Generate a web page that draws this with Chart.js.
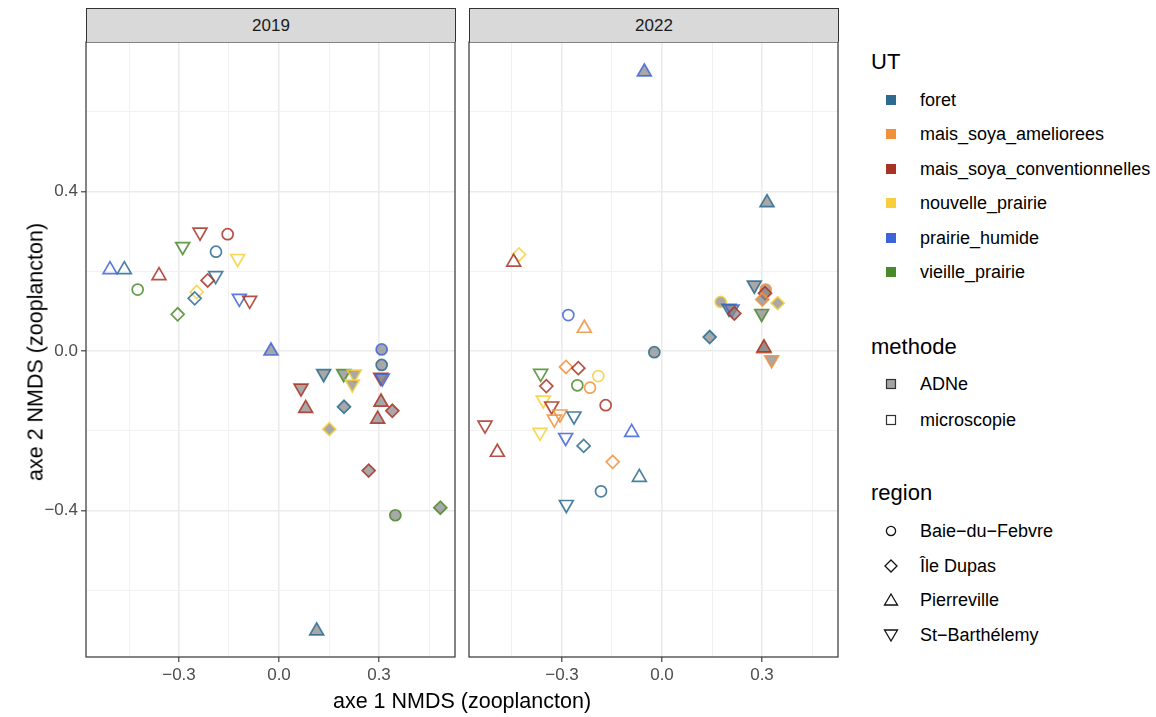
<!DOCTYPE html>
<html>
<head>
<meta charset="utf-8">
<script src="https://cdn.jsdelivr.net/npm/chart.js@4.4.1/dist/chart.umd.min.js"></script>
<style>
  html, body { margin:0; padding:0; background:#ffffff; }
  body { width:1156px; height:717px; position:relative; overflow:hidden; font-family:"Liberation Sans", Arial, Helvetica, sans-serif; }
  .pane { position:absolute; top:0; height:717px; }
  .strip { position:absolute; top:8px; height:33px; background:#D9D9D9; border:1px solid #333333; border-bottom:none; box-sizing:content-box;
           font-size:17px; color:#1A1A1A; text-align:center; line-height:33px; }
  .axtitle { position:absolute; font-size:21.5px; color:#000; white-space:nowrap; }
  .lg { position:absolute; white-space:nowrap; color:#000; }
  .lgt { font-size:22px; }
  .lgi { font-size:18px; }
  .key { position:absolute; }
</style>
</head>
<body>
<div class="pane" style="left:0; width:460px;"><canvas id="c2019" width="460" height="717"></canvas></div>
<div class="pane" style="left:460px; width:384px;"><canvas id="c2022" width="384" height="717"></canvas></div>
<div class="strip" style="left:86px; width:368px;">2019</div>
<div class="strip" style="left:469px; width:368px;">2022</div>
<div class="axtitle" id="xt" style="left:462px; top:689px; transform:translateX(-50%);">axe 1 NMDS (zooplancton)</div>
<div class="axtitle" id="yt" style="left:36px; top:352px; transform:translate(-50%,-50%) rotate(-90deg);">axe 2 NMDS (zooplancton)</div>
<div id="legend"></div>
<script>
// ---------- data ----------
const utLabels = ["foret","mais_soya_ameliorees","mais_soya_conventionnelles","nouvelle_prairie","prairie_humide","vieille_prairie"];
const utColors = ["#2A6B8F","#F0913A","#A93226","#F7CF3C","#3E64D9","#4A8A2B"];
const methodeLabels = ["ADNe","microscopie"];
const regionLabels = ["Baie\u2212du\u2212Febvre","\u00CEle Dupas","Pierreville","St\u2212Barth\u00E9lemy"];
const facetLabels = ["2019","2022"];
const xTickValues = [-0.45,-0.3,-0.15,0,0.15,0.3,0.45];
const xTickLabels = ["","\u22120.3","","0.0","","0.3",""];
const yTickValues = [-0.6,-0.4,-0.2,0,0.2,0.4,0.6];
const yTickLabels = ["","\u22120.4","","0.0","","0.4",""];

// 2019 panel  (ut: index in utLabels, region: index in regionLabels, methode: 0 ADNe / 1 microscopie)
const x2019 = [-0.507,-0.464,-0.424,-0.360,-0.289,-0.237,-0.154,-0.189,-0.124,-0.190,-0.214,-0.247,-0.253,-0.304,-0.119,-0.088,
               -0.024,0.308,0.308,0.134,0.194,0.226,0.220,0.305,0.310,0.066,0.080,0.195,0.306,0.340,0.296,0.151,0.269,0.349,0.484,0.113];
const y2019 = [0.204,0.204,0.154,0.189,0.262,0.298,0.293,0.249,0.232,0.189,0.177,0.148,0.132,0.092,0.132,0.127,
               0.000,0.004,-0.035,-0.057,-0.057,-0.058,-0.083,-0.066,-0.068,-0.093,-0.144,-0.140,-0.128,-0.150,-0.171,-0.196,-0.300,-0.412,-0.393,-0.702];
const ut2019 = [4,0,5,2,5,2,2,0,3,0,2,3,0,5,4,2,
                4,4,0,0,5,3,3,2,4,2,2,0,2,2,2,3,2,5,5,0];
const region2019 = [2,2,0,2,3,3,0,0,3,3,1,1,1,1,3,3,
                    2,0,0,3,3,3,3,3,3,3,2,1,2,1,2,1,1,0,1,2];
const methode2019 = [1,1,1,1,1,1,1,1,1,1,1,1,1,1,1,1,
                     0,0,0,0,0,0,0,0,0,0,0,0,0,0,0,0,0,0,0,0];

// 2022 panel
const x2022 = [-0.429,-0.445,-0.281,-0.233,-0.364,-0.288,-0.251,-0.191,-0.347,-0.254,-0.216,-0.356,-0.331,-0.169,-0.306,-0.323,-0.264,-0.531,-0.366,-0.289,-0.091,-0.235,-0.494,-0.148,-0.068,-0.183,-0.287,
               -0.053,0.315,-0.023,0.143,0.176,0.277,0.201,0.210,0.217,0.311,0.309,0.301,0.347,0.299,0.305,0.306,0.329];
const y2022 = [0.242,0.223,0.090,0.057,-0.056,-0.040,-0.043,-0.063,-0.088,-0.086,-0.092,-0.123,-0.138,-0.136,-0.158,-0.171,-0.163,-0.186,-0.204,-0.217,-0.204,-0.238,-0.254,-0.278,-0.317,-0.352,-0.385,
               0.700,0.372,-0.003,0.035,0.123,0.165,0.107,0.105,0.094,0.154,0.145,0.129,0.120,0.094,0.005,0.008,-0.022];
const ut2022 = [3,2,4,1,5,1,2,3,2,5,1,3,2,2,1,1,0,2,3,4,4,0,2,1,0,0,0,
                4,0,0,0,3,0,0,4,2,1,2,1,3,5,1,2,1];
const region2022 = [1,2,0,2,3,1,1,0,1,0,0,3,3,0,3,3,3,3,3,3,2,1,2,1,2,0,3,
                    2,2,0,1,0,3,3,3,1,0,1,1,1,3,2,2,3];
const methode2022 = [1,1,1,1,1,1,1,1,1,1,1,1,1,1,1,1,1,1,1,1,1,1,1,1,1,1,1,
                     0,0,0,0,0,0,0,0,0,0,0,0,0,0,0,0,0];

// ---------- styling helpers ----------
const FONT = '"Liberation Sans", Arial, Helvetica, sans-serif';
const shapeStyle = ["circle","rectRot","triangle","triangle"];
const shapeRot = [0,0,0,180];
const shapeRadius = [5.5,6.5,8,8];
const adneFill = "rgba(135,135,135,0.72)";
function hexA(h, a){ const n=parseInt(h.slice(1),16); return `rgba(${n>>16&255},${n>>8&255},${n&255},${a})`; }

const panelBorder = {
  id:'panelBorder',
  afterDraw(chart){
    const a = chart.chartArea, ctx = chart.ctx;
    ctx.save(); ctx.strokeStyle = '#333333'; ctx.lineWidth = 1.2;
    ctx.strokeRect(a.left, a.top, a.right - a.left, a.bottom - a.top);
    ctx.restore();
  }
};

function isMajorX(v){ return Math.abs(Math.abs(v)-0.3) < 1e-6 || Math.abs(v) < 1e-6; }
function isMajorY(v){ return Math.abs(Math.abs(v)-0.4) < 1e-6 || Math.abs(v) < 1e-6; }

function makePanel(id, xs, ys, uts, regs, meths, showY, pad){
  const pts = xs.map((x,i)=>({x:x, y:ys[i]}));
  return new Chart(document.getElementById(id), {
    type:'scatter',
    data:{ datasets:[{
      data: pts,
      showLine:false,
      pointStyle: c => shapeStyle[regs[c.dataIndex]],
      pointRotation: c => shapeRot[regs[c.dataIndex]],
      pointRadius: c => shapeRadius[regs[c.dataIndex]],
      pointHoverRadius: c => shapeRadius[regs[c.dataIndex]],
      pointBorderColor: c => hexA(utColors[uts[c.dataIndex]], 0.85),
      pointBackgroundColor: c => meths[c.dataIndex]===0 ? adneFill : 'rgba(0,0,0,0)',
      pointBorderWidth: 1.7,
      pointHoverBorderWidth: 1.7
    }]},
    options:{
      responsive:false, animation:false, events:[],
      layout:{ padding: pad, autoPadding:false },
      plugins:{ legend:{display:false}, tooltip:{enabled:false} },
      scales:{
        x:{
          type:'linear', min:-0.579, max:0.528,
          afterBuildTicks: s => { s.ticks = xTickValues.map(v=>({value:v})); },
          afterFit: s => { s.height = 60; },
          border:{ display:false },
          grid:{
            color: c => (c.tick && isMajorX(c.tick.value)) ? '#EBEBEB' : '#F1F1F1',
            lineWidth: c => (c.tick && isMajorX(c.tick.value)) ? 1.6 : 1,
            drawTicks:true, tickLength:5,
            tickColor: c => (c.tick && isMajorX(c.tick.value)) ? '#333333' : 'rgba(0,0,0,0)',
            tickWidth: 1.1
          },
          ticks:{
            autoSkip:false, maxRotation:0, padding:3, color:'#4D4D4D',
            font:{ family:FONT, size:17 },
            callback: (v, i) => xTickLabels[xTickValues.findIndex(t=>Math.abs(t-v)<1e-6)] || ''
          }
        },
        y:{
          type:'linear', min:-0.7675, max:0.775,
          afterBuildTicks: s => { s.ticks = yTickValues.map(v=>({value:v})); },
          afterFit: s => { s.width = showY ? 86 : 0; },
          border:{ display:false },
          grid:{
            color: c => (c.tick && isMajorY(c.tick.value)) ? '#EBEBEB' : '#F1F1F1',
            lineWidth: c => (c.tick && isMajorY(c.tick.value)) ? 1.6 : 1,
            drawTicks: showY, tickLength:5,
            tickColor: c => (c.tick && isMajorY(c.tick.value)) ? '#333333' : 'rgba(0,0,0,0)',
            tickWidth: 1.1
          },
          ticks:{
            display: showY, autoSkip:false, padding:3, color:'#4D4D4D',
            font:{ family:FONT, size:17 },
            callback: (v) => yTickLabels[yTickValues.findIndex(t=>Math.abs(t-v)<1e-6)] || ''
          }
        }
      }
    },
    plugins:[panelBorder]
  });
}

makePanel('c2019', x2019, y2019, ut2019, region2019, methode2019, true, {top:42, right:5, bottom:0, left:0});
makePanel('c2022', x2022, y2022, ut2022, region2022, methode2022, false, {top:42, right:6, bottom:0, left:9});

// ---------- legend (HTML) ----------
const lg = document.getElementById('legend');
function addText(txt, cls, left, cy){
  const d = document.createElement('div');
  d.className = 'lg ' + cls; d.textContent = txt;
  d.style.left = left + 'px'; d.style.top = cy + 'px'; d.style.transform = 'translateY(-50%)';
  lg.appendChild(d);
}
function addSvg(svgInner, cx, cy){
  const d = document.createElement('div');
  d.className = 'key';
  d.style.left = (cx-9) + 'px'; d.style.top = (cy-9) + 'px';
  d.innerHTML = `<svg width="18" height="18" viewBox="-9 -9 18 18">${svgInner}</svg>`;
  lg.appendChild(d);
}
const keyX = 891, txtX = 920;
addText('UT', 'lgt', 871, 62);
const utY = [100,134,169,203,238,272];
utLabels.forEach((l,i)=>{
  addSvg(`<rect x="-5" y="-5" width="10" height="10" fill="${utColors[i]}"/>`, keyX, utY[i]);
  addText(l, 'lgi', txtX, utY[i]);
});
addText('methode', 'lgt', 871, 347);
const mY = [384,420];
methodeLabels.forEach((l,i)=>{
  addSvg(`<rect x="-4.5" y="-4.5" width="9" height="9" fill="${i===0?'#A3A3A3':'#FFFFFF'}" stroke="#333" stroke-width="1.2"/>`, keyX, mY[i]);
  addText(l, 'lgi', txtX, mY[i]);
});
addText('region', 'lgt', 871, 493);
const rY = [531,566,600,635];
const rShapes = [
  `<circle cx="0" cy="0" r="4.6" fill="none" stroke="#111" stroke-width="1.3"/>`,
  `<path d="M0,-6 L6,0 L0,6 L-6,0 Z" fill="none" stroke="#111" stroke-width="1.3"/>`,
  `<path d="M0,-6 L6.5,5 L-6.5,5 Z" fill="none" stroke="#111" stroke-width="1.3"/>`,
  `<path d="M0,6 L6.5,-5 L-6.5,-5 Z" fill="none" stroke="#111" stroke-width="1.3"/>`
];
regionLabels.forEach((l,i)=>{
  addSvg(rShapes[i], keyX, rY[i]);
  addText(l, 'lgi', txtX, rY[i]);
});
</script>
</body>
</html>
